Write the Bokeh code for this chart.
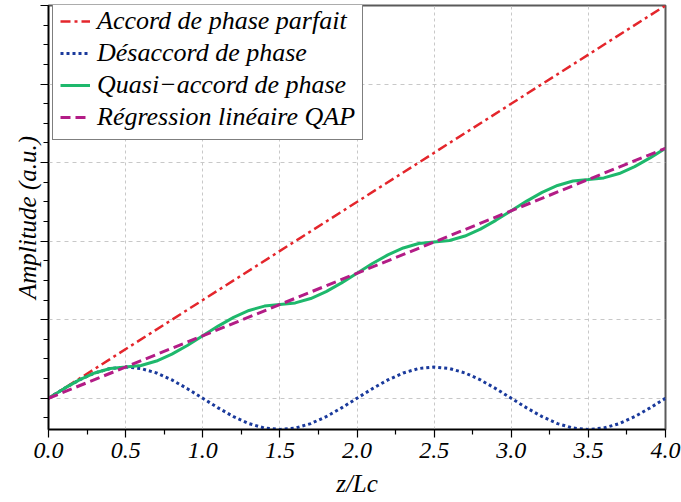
from bokeh.plotting import figure
from bokeh.models import (FixedTicker, Range1d, Legend, LegendItem,
                          CustomJSTickFormatter, PrintfTickFormatter)
from bokeh.embed import file_html
from bokeh.resources import INLINE

# ---- data ----
x_fine = [0.0, 0.1, 0.2, 0.3, 0.4, 0.5, 0.6, 0.7, 0.8, 0.9,
          1.0, 1.1, 1.2, 1.3, 1.4, 1.5, 1.6, 1.7, 1.8, 1.9,
          2.0, 2.1, 2.2, 2.3, 2.4, 2.5, 2.6, 2.7, 2.8, 2.9,
          3.0, 3.1, 3.2, 3.3, 3.4, 3.5, 3.6, 3.7, 3.8, 3.9, 4.0]
desaccord = [0.000, 0.098, 0.187, 0.258, 0.303, 0.318, 0.303, 0.258, 0.187, 0.098,
             0.000, -0.098, -0.187, -0.258, -0.303, -0.318, -0.303, -0.258, -0.187, -0.098,
             0.000, 0.098, 0.187, 0.258, 0.303, 0.318, 0.303, 0.258, 0.187, 0.098,
             0.000, -0.098, -0.187, -0.258, -0.303, -0.318, -0.303, -0.258, -0.187, -0.098, 0.000]
quasi = [0.000, 0.098, 0.187, 0.258, 0.303, 0.318, 0.334, 0.379, 0.450, 0.538,
         0.637, 0.735, 0.824, 0.894, 0.939, 0.955, 0.971, 1.016, 1.086, 1.175,
         1.273, 1.372, 1.460, 1.531, 1.576, 1.592, 1.607, 1.652, 1.723, 1.812,
         1.910, 2.008, 2.097, 2.167, 2.213, 2.228, 2.244, 2.289, 2.359, 2.448, 2.546]
x_line = [0.0, 4.0]
parfait = [0.0, 4.0]
regression = [0.0, 2.546]

x_ticks = [0.0, 0.5, 1.0, 1.5, 2.0, 2.5, 3.0, 3.5, 4.0]
x_minor = [0.25, 0.75, 1.25, 1.75, 2.25, 2.75, 3.25, 3.75]
y_ticks = [0.0, 0.8, 1.6, 2.4, 3.2, 4.0]
y_minor = [-0.2, 0.2, 0.4, 0.6, 1.0, 1.2, 1.4, 1.8, 2.0, 2.2, 2.6, 2.8, 3.0, 3.4, 3.6, 3.8]

labels = ["Accord de phase parfait", "Désaccord de phase",
          "Quasi\u2212accord de phase", "Régression linéaire QAP"]
colors = ["#e4262c", "#1a3a9c", "#1eb86c", "#b31c86"]

FONT = "Liberation Serif"

p = figure(width=681, height=502, output_backend="svg", toolbar_location=None,
           x_range=Range1d(0, 4), y_range=Range1d(-0.318, 4.0),
           min_border_left=48, min_border_right=16, min_border_top=5,
           min_border_bottom=73)
p.background_fill_color = "white"
p.border_fill_color = "white"
p.outline_line_color = "#5a5a5a"
p.outline_line_width = 2

r_par = p.line(x_line, parfait, line_color=colors[0], line_width=2.5, line_dash="10 4 3 4")
r_des = p.line(x_fine, desaccord, line_color=colors[1], line_width=3, line_dash="3 3")
r_qua = p.line(x_fine, quasi, line_color=colors[2], line_width=3)
r_reg = p.line(x_line, regression, line_color=colors[3], line_width=3, line_dash="10 5")

for ax in (p.xaxis[0], p.yaxis[0]):
    ax.axis_line_width = 1.5
    ax.axis_line_color = "black"
    ax.major_tick_line_color = "black"
    ax.minor_tick_line_color = "black"
    ax.major_tick_line_width = 1.2
    ax.minor_tick_line_width = 1.2
    ax.major_tick_in = 0
    ax.major_tick_out = 8
    ax.minor_tick_in = 0
    ax.minor_tick_out = 5
    ax.major_label_text_font = FONT
    ax.major_label_text_font_style = "italic"
    ax.major_label_text_font_size = "24px"
    ax.major_label_text_color = "black"
    ax.axis_label_text_font = FONT
    ax.axis_label_text_font_style = "italic"
    ax.axis_label_text_font_size = "25px"
    ax.axis_label_text_color = "black"

p.xaxis.ticker = FixedTicker(ticks=x_ticks, minor_ticks=x_minor)
p.xaxis.formatter = PrintfTickFormatter(format="%.1f")
p.xaxis.axis_label = "z/Lc"
p.xaxis.major_label_standoff = 5
p.xaxis.axis_label_standoff = 9

p.yaxis.ticker = FixedTicker(ticks=y_ticks, minor_ticks=y_minor)
p.yaxis.formatter = CustomJSTickFormatter(code="return ''")
p.yaxis.axis_label = "Amplitude (a.u.)"
p.yaxis.major_label_standoff = 0
p.yaxis.axis_label_standoff = 0

p.xgrid.grid_line_color = "#c8c8c8"
p.xgrid.grid_line_dash = "3 3"
p.ygrid.grid_line_color = "#c8c8c8"
p.ygrid.grid_line_dash = "4 4"

legend = Legend(items=[LegendItem(label=labels[0], renderers=[r_par]),
                       LegendItem(label=labels[1], renderers=[r_des]),
                       LegendItem(label=labels[2], renderers=[r_qua]),
                       LegendItem(label=labels[3], renderers=[r_reg])],
                location=(4, 289))
legend.label_text_font = FONT
legend.label_text_font_style = "italic"
legend.label_text_font_size = "26px"
legend.label_text_color = "black"
legend.label_height = 26
legend.glyph_width = 30
legend.glyph_height = 20
legend.spacing = 2
legend.padding = 7
legend.margin = 0
legend.label_standoff = 7
legend.border_line_color = "black"
legend.border_line_width = 1
legend.background_fill_color = "white"
legend.background_fill_alpha = 1
p.add_layout(legend)

open("out.html", "w").write(file_html(p, INLINE))
